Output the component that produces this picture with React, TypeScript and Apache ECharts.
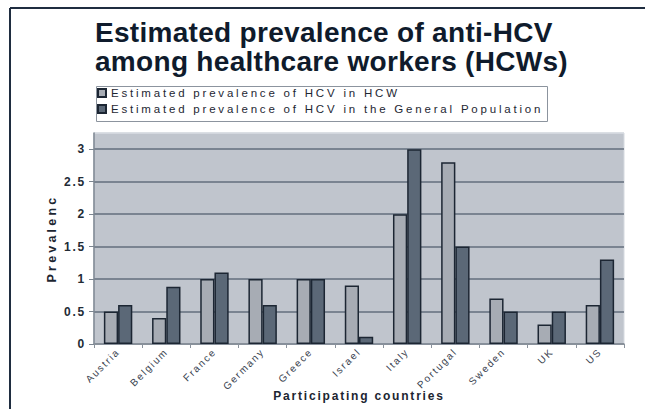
import React, { useEffect, useRef } from "react";
import * as echarts from "echarts";

const titleLines = ["Estimated prevalence of anti-HCV", "among healthcare workers (HCWs)"];
const categories = ["Austria", "Belgium", "France", "Germany", "Greece", "Israel", "Italy", "Portugal", "Sweden", "UK", "US"];
const seriesNames = ["Estimated prevalence of HCV in HCW", "Estimated prevalence of HCV in the General Population"];
const hcwValues = [0.5, 0.4, 1.0, 1.0, 1.0, 0.9, 2.0, 2.8, 0.7, 0.3, 0.6];
const generalValues = [0.6, 0.88, 1.1, 0.6, 1.0, 0.11, 3.0, 1.5, 0.5, 0.5, 1.3];
const yAxisName = "Prevalenc";
const xAxisName = "Participating countries";

const FONT = "Liberation Sans";

export default function App() {
  const ref = useRef<HTMLDivElement>(null);
  useEffect(() => {
    if (!ref.current) return;
    const chart = echarts.init(ref.current, null, { renderer: "svg" });
    const gridColor = "#636e7c";
    chart.setOption({
      animation: false,
      backgroundColor: "#ffffff",
      title: {
        text: titleLines.join("\n"),
        left: 95,
        top: 18,
        padding: 0,
        textStyle: {
          fontFamily: FONT,
          fontSize: 28,
          fontWeight: "bold",
          lineHeight: 29,
          color: "#0f1b2c",
        },
      },
      legend: {
        orient: "vertical",
        left: 97,
        top: 87,
        padding: 0,
        itemWidth: 8,
        itemHeight: 8,
        itemGap: 4,
        icon: "rect",
        textStyle: { fontFamily: FONT, fontSize: 11.5, lineHeight: 12, color: "#1e2733" },
        data: seriesNames,
      },
      graphic: [
        {
          type: "rect",
          left: 94,
          top: 84,
          shape: { width: 451, height: 35 },
          style: { fill: "none", stroke: "#8c949e", lineWidth: 1 },
          silent: true,
          z: -1,
        },
        {
          type: "line",
          shape: { x1: 10, y1: 8, x2: 645, y2: 8 },
          style: { stroke: "#1f2d40", lineWidth: 2 },
        },
        {
          type: "line",
          shape: { x1: 10, y1: 8, x2: 10, y2: 409 },
          style: { stroke: "#1f2d40", lineWidth: 2 },
        },
      ],
      grid: {
        left: 94,
        top: 133,
        width: 530,
        height: 211,
        show: true,
        backgroundColor: "#c0c5cd",
        borderColor: "#d6dae0",
        borderWidth: 1,
      },
      xAxis: {
        type: "category",
        data: categories,
        name: xAxisName,
        nameLocation: "middle",
        nameGap: 44,
        nameTextStyle: { fontFamily: FONT, fontSize: 12, fontWeight: "bold", color: "#1c2531" },
        axisLine: { lineStyle: { color: "#8a929c", width: 1.5 } },
        axisTick: { show: true, length: 4, lineStyle: { color: "#8a929c" } },
        axisLabel: {
          rotate: 45,
          interval: 0,
          margin: 6,
          fontFamily: FONT,
          fontSize: 10,
          color: "#3a4350",
        },
      },
      yAxis: {
        type: "value",
        min: 0,
        max: 3.25,
        interval: 0.5,
        name: yAxisName,
        nameLocation: "middle",
        nameGap: 34,
        nameTextStyle: { fontFamily: FONT, fontSize: 12.5, fontWeight: "bold", color: "#1c2531" },
        axisLine: { show: true, lineStyle: { color: "#7b8590", width: 1.5 } },
        axisTick: { show: true, length: 5, lineStyle: { color: "#7b8590" } },
        axisLabel: {
          showMaxLabel: false,
          margin: 8,
          fontFamily: FONT,
          fontSize: 12,
          fontWeight: "bold",
          color: "#222b36",
        },
        splitLine: {
          show: true,
          lineStyle: {
            color: [gridColor, gridColor, gridColor, gridColor, gridColor, gridColor, gridColor, "#d6dae0"],
            width: 1.5,
          },
        },
      },
      series: [
        {
          name: seriesNames[0],
          type: "bar",
          data: hcwValues,
          barGap: "0%",
          barCategoryGap: "41%",
          itemStyle: { color: "#a7acb4", borderColor: "#1c2633", borderWidth: 1.5 },
        },
        {
          name: seriesNames[1],
          type: "bar",
          data: generalValues,
          itemStyle: { color: "#5b6877", borderColor: "#1c2633", borderWidth: 1.5 },
        },
      ],
    });
    return () => chart.dispose();
  }, []);
  return (
    <div style={{ position: "fixed", left: 0, top: 0, width: 645, height: 409, letterSpacing: "1.8px" }}>
      <style>{`
        text[style*="28px"]{letter-spacing:0.3px}
        text[style*="11.5px"]{letter-spacing:2.8px}
        text[style*="12.5px"]{letter-spacing:3.2px}
      `}</style>
      <div ref={ref} style={{ width: 645, height: 409 }} />
    </div>
  );
}
